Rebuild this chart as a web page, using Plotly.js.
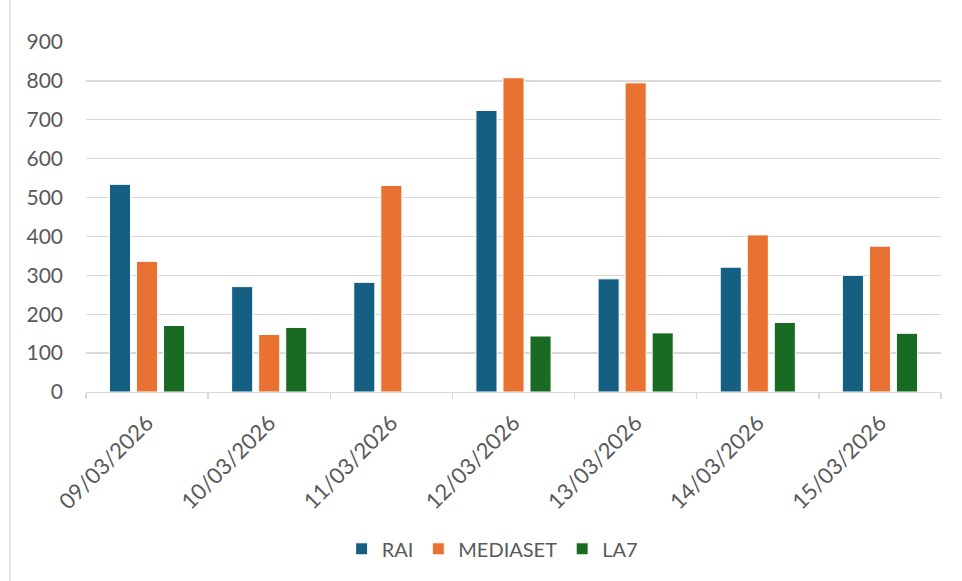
<!DOCTYPE html>
<html>
<head>
<meta charset="utf-8">
<script src="https://cdn.plot.ly/plotly-3.0.1.min.js"></script>
<style>html,body{margin:0;padding:0;background:#fff;}#chart{width:962px;height:581px;}</style>
</head>
<body>
<div id="chart"></div>
<script>
const categories = ["09/03/2026","10/03/2026","11/03/2026","12/03/2026","13/03/2026","14/03/2026","15/03/2026"];
const rai      = [534, 271, 282, 724, 291, 321, 300];
const mediaset = [336, 148, 531, 808, 795, 404, 375];
const la7      = [171, 166, 0,   144, 152, 179, 151];
const seriesNames = ["RAI","MEDIASET","LA7"];
const colors = ["#156082","#E97132","#196B24"];
const yTicks = [0,100,200,300,400,500,600,700,800,900];

const values = [rai, mediaset, la7];
const traces = values.map((v,i)=>({
  type:"bar", name: seriesNames[i], x: categories, y: v,
  marker:{color: colors[i], line:{color:"#ffffff", width:1}},
  hoverinfo:"x+y+name"
}));

const fam = "Lato, 'Open Sans', sans-serif";
const layout = {
  width:962, height:581,
  margin:{l:86, r:21, t:42, b:189, autoexpand:false},
  paper_bgcolor:"#ffffff", plot_bgcolor:"#ffffff",
  barmode:"group", bargap:0.336, bargroupgap:0.22,
  font:{family:fam, color:"#595959"},
  showlegend:true,
  legend:{orientation:"h", x:0.475, xanchor:"center", y:-0.448, yanchor:"middle",
          font:{family:fam, size:20, color:"#595959"}, itemwidth:20, traceorder:"normal"},
  xaxis:{type:"category", tickangle:-45, tickfont:{size:22, color:"#595959", family:fam},
         showline:true, linecolor:"#d9d9d9", linewidth:1.3, ticks:"outside", tickson:"boundaries",
         ticklen:6, tickcolor:"#d9d9d9", tickwidth:1.3, showgrid:false, zeroline:false, fixedrange:true,
         automargin:false, ticklabelstandoff:8},
  yaxis:{range:[0,900], tickvals:yTicks, tickfont:{size:21, color:"#595959", family:fam},
         showgrid:true, gridcolor:"#d9d9d9", gridwidth:1.3, zeroline:false, showline:false,
         ticks:"", ticklabelstandoff:22, fixedrange:true, automargin:false},
  shapes:[{type:"line", xref:"paper", yref:"paper", x0:-0.0889, x1:-0.0889, y0:-0.55, y1:1.12,
           line:{color:"#d9d9d9", width:1.3}}]
};
Plotly.newPlot("chart", traces, layout, {displayModeBar:false, staticPlot:true});
</script>
</body>
</html>
